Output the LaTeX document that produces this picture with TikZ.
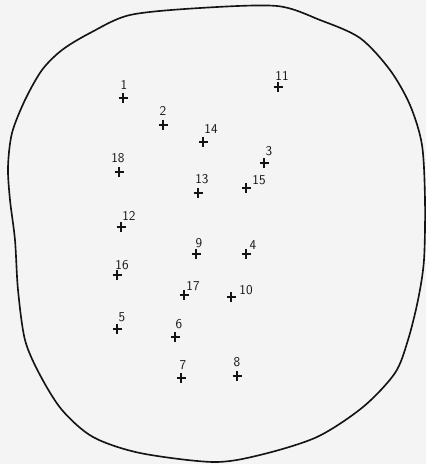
\documentclass[tikz,border=0pt]{standalone}
\usetikzlibrary{calc}
\definecolor{paper}{RGB}{244,244,244}
\definecolor{ink}{RGB}{20,20,20}
\tikzset{
  outline/.style={draw=ink,line width=1.4pt,line join=round},
  crossline/.style={draw=ink,line width=1.3pt},
  numlabel/.style={font=\sffamily\fontsize{11.5}{12}\selectfont,text=ink,inner sep=0pt}
}

\begin{document}
\begin{tikzpicture}[x=0.03cm,y=-0.03cm]
  \fill[paper] (0,0) rectangle (426,464);
  \useasboundingbox (0,0) rectangle (426,464);

  % field boundary
  \draw[outline] plot[smooth cycle,tension=0.5] coordinates {
    (200,8) (277,6) (320,20) (360,38) (390,70) (410,105) (422,145)
    (425,200) (424,260) (418,300) (408,340) (395,373) (363,407)
    (317,437) (260,455) (213,462) (140,453) (93,437) (62,410)
    (40,375) (25,340) (18,290) (15,240) (10,200) (8,167) (12,133)
    (25,100) (42,70) (62,50) (90,33) (130,15)};

  % stations: number / cross / label
  \foreach \n/\x/\y/\lx/\ly in {
      1/123/98/124/85,     2/163/125/163/111,  3/264/163/269/151,
      4/246/254/253/245,   5/117/329/122/317,  6/175/337/179/324,
      7/181/378/183/365,   8/237/376/237/362,  9/196/254/199/243,
      10/231/297/246/290, 11/278/87/282/76,   12/121/227/129/216,
      13/198/193/202/179, 14/203/142/211/129, 15/246/188/259/180,
      16/117/275/122/265, 17/184/295/193/286, 18/119/172/118/158} {
    \coordinate (p\n) at (\x,\y);
    \draw[crossline] (p\n) +(-4.5,0) -- +(4.5,0) (p\n) +(0,-5) -- +(0,5);
    \node[numlabel] (l\n) at (\lx,\ly) {\n};
  }
\end{tikzpicture}
\end{document}
